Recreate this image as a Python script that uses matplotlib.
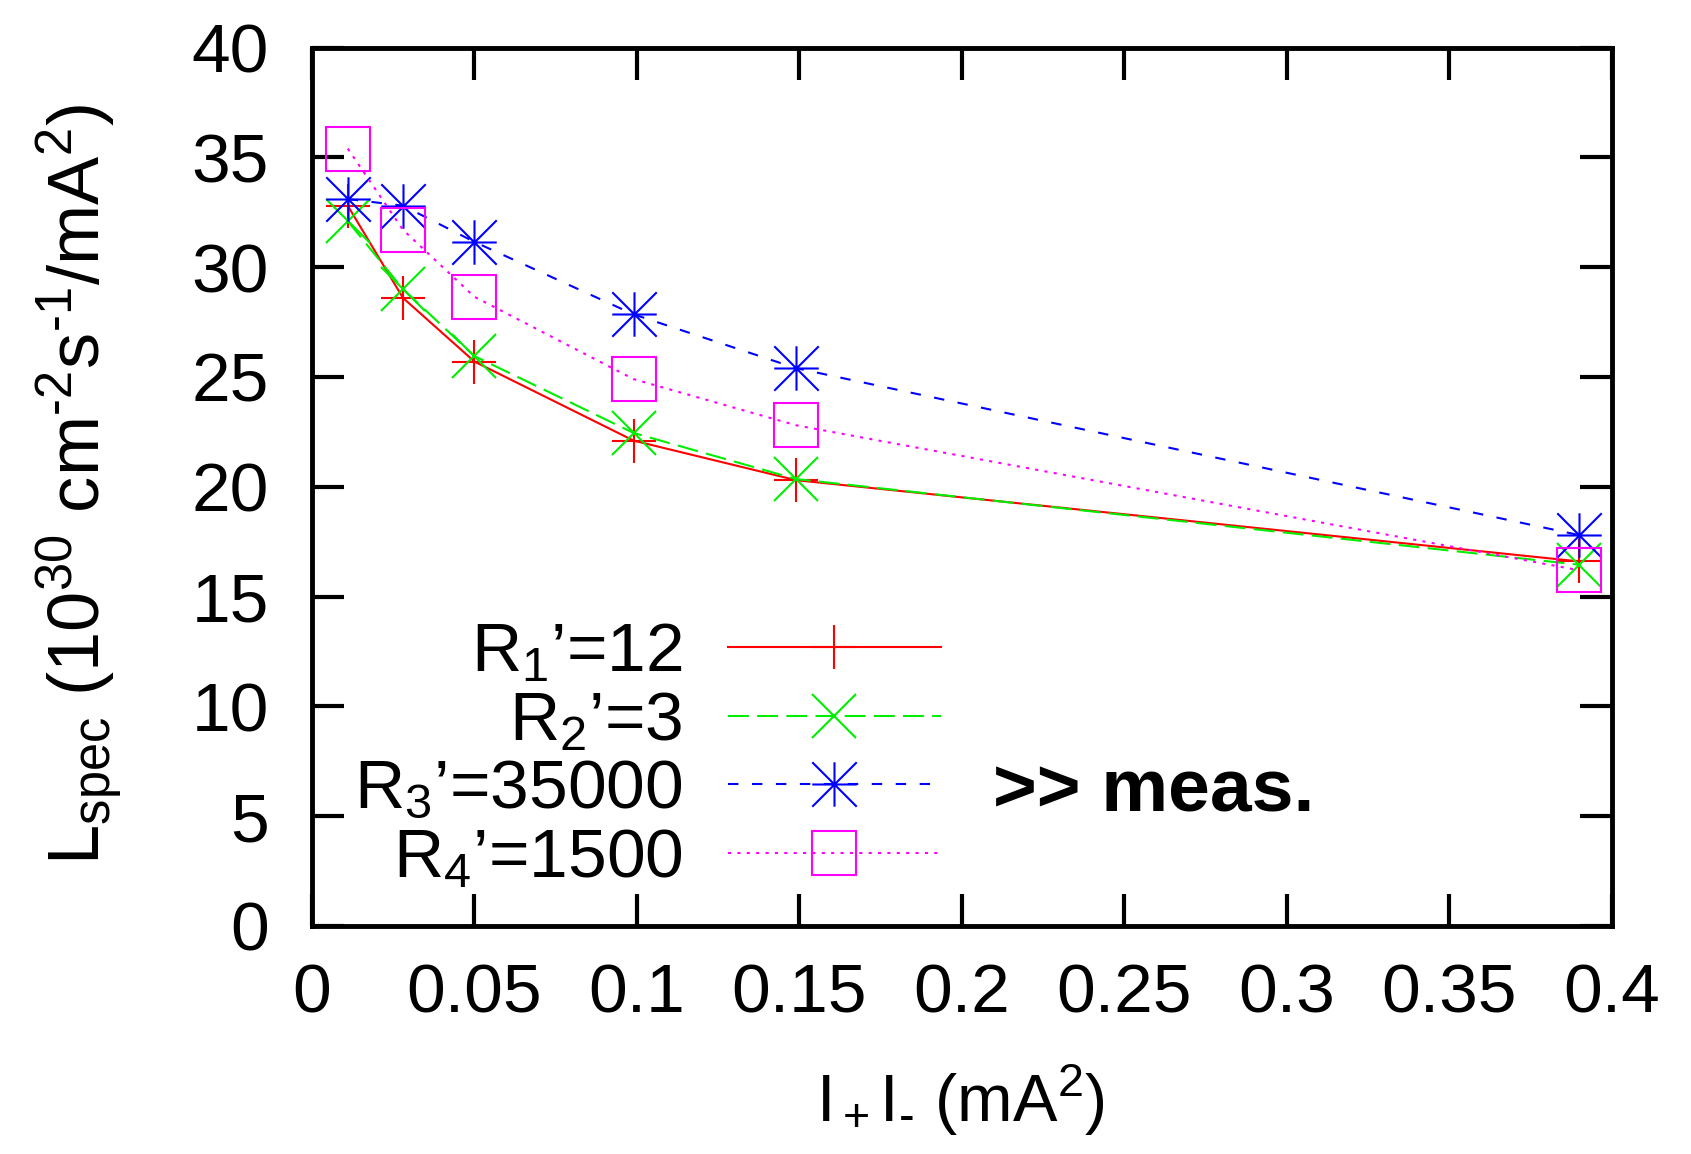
import numpy as np
import matplotlib
matplotlib.use('Agg')
import matplotlib.pyplot as plt
from matplotlib.path import Path

plt.rcParams['font.family'] = ['Liberation Sans', 'DejaVu Sans']
plt.rcParams['mathtext.fontset'] = 'custom'
plt.rcParams['mathtext.rm'] = 'Liberation Sans'
plt.rcParams['mathtext.it'] = 'Liberation Sans:italic'
plt.rcParams['mathtext.default'] = 'regular'

# data
ipim = [0.011, 0.028, 0.05, 0.099, 0.149, 0.39]
r1 = [32.8, 28.6, 25.7, 22.1, 20.3, 16.6]
r2 = [32.1, 29.0, 25.95, 22.45, 20.35, 16.45]
r3 = [33.1, 32.8, 31.15, 27.85, 25.4, 17.8]
r4 = [35.4, 31.7, 28.65, 24.9, 22.8, 16.2]
labels = ["R$_1$’=12", "R$_2$’=3", "R$_3$’=35000", "R$_4$’=1500"]

xticks = [0, 0.05, 0.1, 0.15, 0.2, 0.25, 0.3, 0.35, 0.4]
xticklabels = ['0', '0.05', '0.1', '0.15', '0.2', '0.25', '0.3', '0.35', '0.4']
yticks = [0, 5, 10, 15, 20, 25, 30, 35, 40]

# gnuplot style star: plus and cross on top of each other
star = Path([(-1, 0), (1, 0), (0, -1), (0, 1), (-1, -1), (1, 1), (-1, 1), (1, -1)],
            [Path.MOVETO, Path.LINETO] * 4)

fig = plt.figure(figsize=(16.91, 11.54), dpi=100)
ax = fig.add_axes([0.1845, 0.1976, 0.7685, 0.7612])

fs = 50
ms = 32
lw = 1.5
ax.plot(ipim, r1, color='#ff0000', lw=lw, linestyle='-', marker='+', ms=ms, mew=lw, label=labels[0])
ax.plot(ipim, r2, color='#00ee00', lw=lw, linestyle=(0, (10, 4)), marker='x', ms=ms, mew=lw, label=labels[1])
ax.plot(ipim, r3, color='#0000ff', lw=lw, linestyle=(0, (5, 6.5)), marker=star, ms=ms, mew=lw, label=labels[2])
ax.plot(ipim, r4, color='#ff00ff', lw=lw, linestyle=(0, (1.5, 3)), marker='s', ms=ms, mew=lw,
        mfc='none', label=labels[3])

ax.set_xlim(0, 0.4)
ax.set_ylim(0, 40)
ax.set_xticks(xticks)
ax.set_xticklabels(xticklabels)
ax.set_yticks(yticks)
ax.tick_params(direction='in', length=23, width=3, labelsize=fs, top=True, right=True)
ax.tick_params(axis='x', pad=26)
ax.tick_params(axis='y', pad=31)
for sp in ax.spines.values():
    sp.set_linewidth(3.5)

ax.set_xlabel("I$_+$I$_‐$ (mA$^2$)", fontsize=48, va='baseline')
ax.xaxis.set_label_coords(0.499, -0.223)
ax.set_ylabel("L$_{spec}$ (10$^{30}$ cm$^{‐2}$s$^{‐1}$/mA$^2$)", fontsize=52, va='baseline')
ax.yaxis.set_label_coords(-0.163, 0.503)

leg = ax.legend(loc='center right', bbox_to_anchor=(0.484, 0.193), frameon=False, markerfirst=False,
                fontsize=fs, handlelength=3.07, handletextpad=0.65, labelspacing=0.065,
                borderpad=0, borderaxespad=0)

ax.text(0.2095, 5.19, ">> meas.", fontsize=54, fontweight='bold', va='baseline', ha='left')

fig.savefig('out.png', dpi=100)
